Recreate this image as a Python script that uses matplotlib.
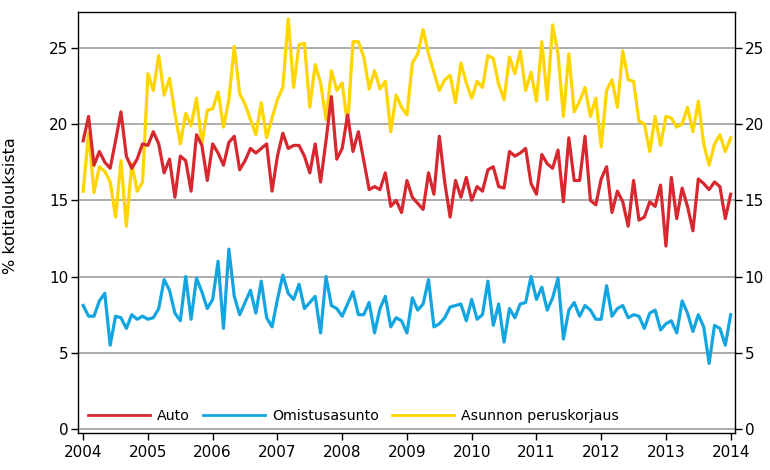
import numpy as np
import matplotlib
matplotlib.use("Agg")
import matplotlib.pyplot as plt

# ============================================================
# Data (monthly, Jan 2004 - Jan 2014), % of households
# ============================================================

START_YEAR = 2004

auto = [
    18.9, 20.5, 17.3, 18.2, 17.5, 17.1, 18.9, 20.8, 17.9, 17.1, 17.7, 18.7,
    18.6, 19.5, 18.7, 16.8, 17.7, 15.2, 17.9, 17.6, 15.6, 19.3, 18.6, 16.3,
    18.7, 18.1, 17.3, 18.8, 19.2, 17.0, 17.6, 18.4, 18.1, 18.4, 18.7, 15.6,
    17.9, 19.4, 18.4, 18.6, 18.6, 17.9, 16.8, 18.7, 16.2, 18.9, 21.8, 17.7,
    18.4, 20.6, 18.2, 19.5, 17.6, 15.7, 15.9, 15.7, 16.8, 14.6, 15.0, 14.2,
    16.3, 15.2, 14.8, 14.4, 16.8, 15.4, 19.2, 16.2, 13.9, 16.3, 15.2, 16.5,
    15.0, 15.9, 15.6, 17.0, 17.2, 15.9, 15.8, 18.2, 17.9, 18.1, 18.4, 16.1,
    15.4, 18.0, 17.4, 17.1, 18.3, 14.9, 19.1, 16.3, 16.3, 19.2, 15.0, 14.7,
    16.4, 17.2, 14.2, 15.6, 14.9, 13.3, 16.3, 13.7, 13.9, 14.9, 14.6, 16.0,
    12.0, 16.5, 13.8, 15.8, 14.6, 13.0, 16.4, 16.1, 15.7, 16.2, 15.9, 13.8,
    15.4,
]

omistusasunto = [
    8.1, 7.4, 7.4, 8.4, 8.9, 5.5, 7.4, 7.3, 6.6, 7.5, 7.2, 7.4,
    7.2, 7.3, 7.9, 9.8, 9.1, 7.6, 7.1, 10.0, 7.2, 9.9, 9.0, 7.9,
    8.5, 11.0, 6.6, 11.8, 8.7, 7.5, 8.3, 9.1, 7.6, 9.7, 7.3, 6.7,
    8.5, 10.1, 8.9, 8.5, 9.5, 7.9, 8.3, 8.7, 6.3, 10.0, 8.1, 7.9,
    7.4, 8.2, 9.0, 7.5, 7.5, 8.3, 6.3, 7.9, 8.7, 6.7, 7.3, 7.1,
    6.3, 8.6, 7.8, 8.2, 9.8, 6.7, 6.9, 7.3, 8.0, 8.1, 8.2, 7.1,
    8.5, 7.2, 7.5, 9.7, 6.8, 8.2, 5.7, 7.9, 7.3, 8.2, 8.3, 10.0,
    8.5, 9.3, 7.8, 8.6, 9.9, 5.9, 7.8, 8.3, 7.4, 8.1, 7.8, 7.2,
    7.2, 9.4, 7.4, 7.9, 8.1, 7.3, 7.5, 7.4, 6.6, 7.6, 7.8, 6.5,
    6.9, 7.1, 6.3, 8.4, 7.6, 6.4, 7.5, 6.7, 4.3, 6.8, 6.6, 5.5,
    7.5,
]

peruskorjaus = [
    15.6, 19.4, 15.5, 17.2, 16.9, 16.2, 13.9, 17.6, 13.3, 17.4, 15.6, 16.2,
    23.3, 22.2, 24.5, 21.9, 23.0, 20.7, 18.7, 20.7, 19.9, 21.7, 18.7, 20.9,
    21.0, 22.1, 19.8, 21.6, 25.1, 22.0, 21.3, 20.3, 19.3, 21.4, 19.1, 20.4,
    21.6, 22.4, 26.9, 22.4, 25.2, 25.3, 21.1, 23.9, 22.7, 20.3, 23.5, 22.2,
    22.7, 19.9, 25.4, 25.4, 24.4, 22.3, 23.5, 22.3, 22.8, 19.5, 21.9, 21.1,
    20.6, 24.0, 24.6, 26.2, 24.6, 23.4, 22.2, 22.9, 23.2, 21.4, 24.0, 22.7,
    21.7, 22.8, 22.4, 24.5, 24.3, 22.6, 21.6, 24.4, 23.3, 24.8, 22.2, 23.4,
    21.5, 25.4, 21.6, 26.5, 24.6, 20.5, 24.6, 20.8, 21.5, 22.4, 20.5, 21.7,
    18.5, 22.2, 22.9, 21.1, 24.8, 22.9, 22.8, 20.2, 20.0, 18.2, 20.5, 18.6,
    20.5, 20.4, 19.8, 20.0, 21.1, 19.5, 21.5, 18.7, 17.3, 18.7, 19.3, 18.2,
    19.1,
]

labels = ["Auto", "Omistusasunto", "Asunnon peruskorjaus"]
colors = ["#d7282f", "#12a5e0", "#ffd500"]
years = list(range(2004, 2015))
yticks = [0, 5, 10, 15, 20, 25]

# ============================================================
# Plot
# ============================================================

t = START_YEAR + np.arange(len(auto)) / 12.0

fig = plt.figure(figsize=(7.7, 4.7), dpi=100)
ax = fig.add_axes([0.1013, 0.0787, 0.8532, 0.8958])

for yv in yticks:
    ax.axhline(yv, color="#a6a6a6", lw=1.3, zorder=1)

ax.plot(t, peruskorjaus, color=colors[2], lw=2.3, label=labels[2], zorder=3)
ax.plot(t, omistusasunto, color=colors[1], lw=2.3, label=labels[1], zorder=3)
ax.plot(t, auto, color=colors[0], lw=2.3, label=labels[0], zorder=4)

ax.set_xlim(2003.92, 2014.066)
ax.set_ylim(-0.26, 27.35)

ax.set_xticks(years)
ax.set_xticklabels([str(y) for y in years])
ax.set_yticks(yticks)

ax.tick_params(axis="both", direction="out", length=5, width=1,
               labelsize=11, colors="black")
ax.tick_params(axis="y", right=True, labelright=True, pad=2)

for sp in ax.spines.values():
    sp.set_linewidth(1.0)
    sp.set_color("black")

ax.set_ylabel("% kotitalouksista", fontsize=11.5)
ax.yaxis.set_label_coords(-0.092, 0.54)

h, l = ax.get_legend_handles_labels()
order = [2, 1, 0]
leg = ax.legend([h[i] for i in order], [l[i] for i in order],
                loc="lower left", bbox_to_anchor=(0.0, 0.0), ncol=3,
                frameon=False, fontsize=10.2, handlelength=4.4,
                columnspacing=0.9, handletextpad=0.5, borderaxespad=0.3)
for line in leg.get_lines():
    line.set_linewidth(2.0)

fig.savefig("out.png", dpi=100)
